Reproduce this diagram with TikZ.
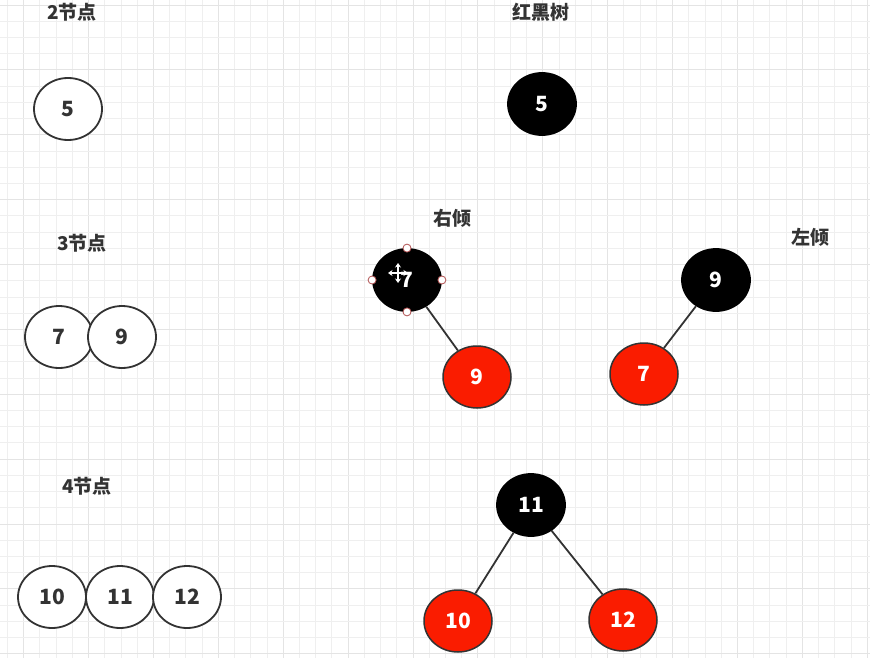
\documentclass[tikz,border=0pt]{standalone}
\usepackage{fontspec}
\setmainfont{Noto Sans CJK SC}
\usetikzlibrary{shapes.geometric,arrows.meta}
\definecolor{gridminor}{HTML}{EFEFEF}
\definecolor{gridmajor}{HTML}{E4E4E4}
\definecolor{ink}{HTML}{333333}
\definecolor{rbred}{HTML}{FA1C00}
\definecolor{handle}{HTML}{B05050}
\tikzset{
  nd/.style={ellipse, minimum width=68pt, minimum height=62pt, inner sep=0pt, line width=1.8pt, font=\fontsize{21}{21}\selectfont\bfseries},
  wnode/.style={nd, draw=ink, fill=white, text=ink},
  bnode/.style={nd, draw=black, fill=black, text=white},
  rnode/.style={nd, draw=ink, fill=rbred, text=white, line width=1.5pt},
  lbl/.style={font=\fontsize{19}{19}\selectfont\bfseries, text=ink, inner sep=0pt},
  edge/.style={draw=ink, line width=1.8pt},
  hdl/.style={circle, draw=handle, fill=white, line width=0.8pt, minimum size=8pt, inner sep=0pt},
}
\begin{document}
\begin{tikzpicture}[x=1pt,y=-1pt]
\useasboundingbox (0,0) rectangle (870,658);
\fill[white] (0,0) rectangle (870,658);
% grid
\foreach \i in {0,...,53} {
  \pgfmathtruncatemacro{\m}{mod(\i-1,4)}
  \ifnum\m=0
    \draw[gridmajor, line width=0.9pt] ({7.5+\i*16.22},0) -- ({7.5+\i*16.22},658);
  \else
    \draw[gridminor, line width=0.9pt] ({7.5+\i*16.22},0) -- ({7.5+\i*16.22},658);
  \fi
}
\foreach \j in {0,...,40} {
  \pgfmathtruncatemacro{\m}{mod(\j,4)}
  \ifnum\m=0
    \draw[gridmajor, line width=0.9pt] (0,{5+\j*16.22}) -- (870,{5+\j*16.22});
  \else
    \draw[gridminor, line width=0.9pt] (0,{5+\j*16.22}) -- (870,{5+\j*16.22});
  \fi
}
% labels
\node[lbl] (t2) at (72,12) {2节点};
\node[lbl] (t3) at (82,243) {3节点};
\node[lbl] (t4) at (87,486) {4节点};
\node[lbl] (trb) at (541,12) {红黑树};
\node[lbl] (tr) at (452,218) {右倾};
\node[lbl] (tl) at (810,237) {左倾};
% 2-node
\node[wnode] (a5) at (68,109) {5};
% 3-node
\node[wnode] (b7) at (59,337) {7};
\node[wnode] (b9) at (122,337) {9};
% 4-node
\node[wnode] (c10) at (52,597) {10};
\node[wnode] (c11) at (120,597) {11};
\node[wnode] (c12) at (187,597) {12};
% red-black
\node[bnode] (r5) at (542,104) {5};
% right lean
\node[bnode] (r7) at (407,280) {7};
\node[rnode] (r9) at (477,377) {9};
\draw[edge] (r7) -- (r9);
% left lean
\node[bnode] (l9) at (716,280) {9};
\node[rnode] (l7) at (644,374) {7};
\draw[edge] (l9) -- (l7);
% 4-node tree
\node[bnode] (m11) at (531,505) {11};
\node[rnode] (m10) at (458,621) {10};
\node[rnode] (m12) at (623,620) {12};
\draw[edge] (m11) -- (m10);
\draw[edge] (m11) -- (m12);
% selection handles
\node[hdl] (h1) at (r7.north) {};
\node[hdl] (h2) at (r7.south) {};
\node[hdl] (h3) at (r7.west) {};
\node[hdl] (h4) at (r7.east) {};
% move cursor
\coordinate (mc) at (398,273);
\draw[white, line width=1.6pt, {Stealth[length=4.5pt,width=6pt]}-{Stealth[length=4.5pt,width=6pt]}] ([xshift=-10pt]mc) -- ([xshift=10pt]mc);
\draw[white, line width=1.6pt, {Stealth[length=4.5pt,width=6pt]}-{Stealth[length=4.5pt,width=6pt]}] ([yshift=-10pt]mc) -- ([yshift=10pt]mc);
\end{tikzpicture}
\end{document}
